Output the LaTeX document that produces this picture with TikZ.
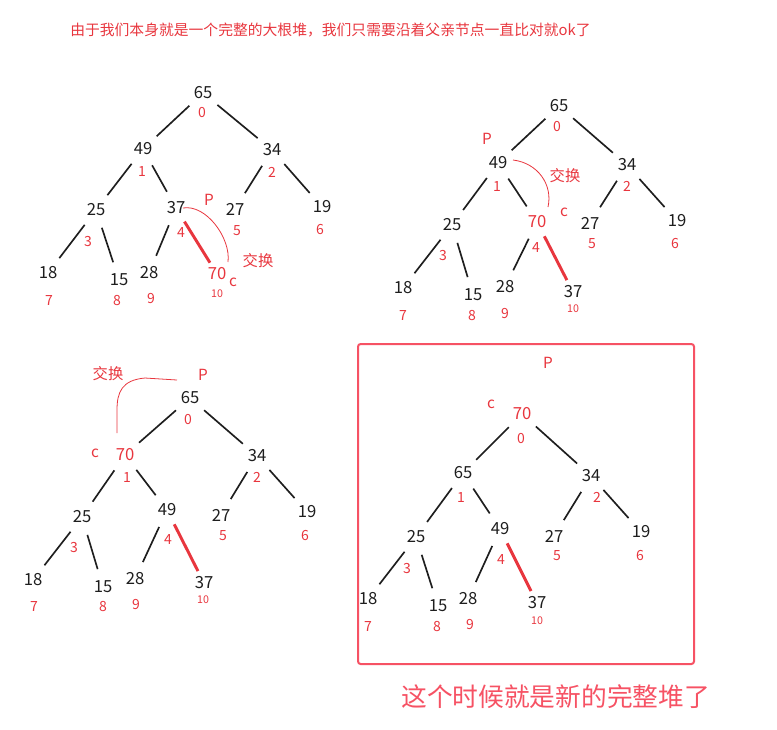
\documentclass[tikz,border=0pt]{standalone}
\usepackage{fontspec}
\setmainfont{Noto Sans CJK SC}
\usepackage{tikz}
\usetikzlibrary{calc}
\definecolor{numgray}{RGB}{30,30,30}
\definecolor{hred}{RGB}{232,54,62}
\definecolor{boxred}{RGB}{246,82,100}
\tikzset{
  val/.style={inner sep=1pt,text=numgray,font=\fontsize{12.5}{13}\selectfont},
  hot/.style={val,text=hred},
  idx/.style={inner sep=1pt,text=hred,font=\fontsize{10.5}{11}\selectfont},
  idxs/.style={idx,font=\fontsize{8}{8}\selectfont},
  note/.style={inner sep=1pt,text=hred,font=\fontsize{11.5}{12}\selectfont},
  edge/.style={numgray,line width=1.25pt,shorten <=14pt,shorten >=14pt},
  hotedge/.style={hred,line width=2.2pt,shorten <=12pt,shorten >=10pt},
  swap/.style={hred,line width=0.6pt}
}
\begin{document}
\begin{tikzpicture}[x=0.75pt,y=-0.75pt]
  \useasboundingbox (0,0) rectangle (777,729);
  % heading
  \node[inner sep=0pt,anchor=west,text=hred,font=\fontsize{11.1}{12}\selectfont] (head) at (70,30)
    {由于我们本身就是一个完整的大根堆，我们只需要沿着父亲节点一直比对就ok了};
  % tree a : 70 inserted at index 10
  \node[val] (a0) at (203,93) {65};   \node[idx] (ai0) at (202,113) {0};
  \node[val] (a1) at (143,149) {49};  \node[idx] (ai1) at (142,172) {1};
  \node[val] (a2) at (272,150) {34};  \node[idx] (ai2) at (272,172) {2};
  \node[val] (a3) at (96,210) {25};   \node[idx] (ai3) at (88,242) {3};
  \node[val] (a4) at (176,208) {37};  \node[idx] (ai4) at (181,233) {4};
  \node[val] (a5) at (235,209) {27};  \node[idx] (ai5) at (237,231) {5};
  \node[val] (a6) at (322,207) {19};  \node[idx] (ai6) at (320,230) {6};
  \node[val] (a7) at (48,273) {18};   \node[idx] (ai7) at (49,300) {7};
  \node[val] (a8) at (119,280) {15};  \node[idx] (ai8) at (117,300) {8};
  \node[val] (a9) at (149,273) {28};  \node[idx] (ai9) at (151,298) {9};
  \node[hot] (a10) at (217,274) {70}; \node[idxs] (ai10) at (217,294) {10};
  \node[note] (ap) at (209,200) {P};
  \node[note] (ac) at (233,282) {c};
  \node[note] (ax) at (258,261) {交换};
  \coordinate (as) at (183,208); \coordinate (ae) at (228,262);
  \draw[swap] (as) .. controls (206,204) and (231,238) .. (ae);
  % tree b : 70 moved to index 4
  \node[val] (b0) at (559,106) {65};  \node[idx] (bi0) at (557,127) {0};
  \node[val] (b1) at (498,163) {49};  \node[idx] (bi1) at (497,187) {1};
  \node[val] (b2) at (627,165) {34};  \node[idx] (bi2) at (627,186) {2};
  \node[val] (b3) at (452,225) {25};  \node[idx] (bi3) at (443,256) {3};
  \node[hot] (b4) at (537,222) {70};  \node[idx] (bi4) at (536,247) {4};
  \node[val] (b5) at (590,223) {27};  \node[idx] (bi5) at (592,244) {5};
  \node[val] (b6) at (677,221) {19};  \node[idx] (bi6) at (675,244) {6};
  \node[val] (b7) at (403,288) {18};  \node[idx] (bi7) at (403,315) {7};
  \node[val] (b8) at (473,295) {15};  \node[idx] (bi8) at (472,315) {8};
  \node[val] (b9) at (505,287) {28};  \node[idx] (bi9) at (505,313) {9};
  \node[val] (b10) at (573,292) {37}; \node[idxs] (bi10) at (573,309) {10};
  \node[note] (bp) at (487,139) {P};
  \node[note] (bx) at (565,176) {交换};
  \node[note] (bc) at (564,212) {c};
  \coordinate (bs) at (513,160); \coordinate (be) at (548,207);
  \draw[swap] (bs) .. controls (538,163) and (553,185) .. (be);
  % tree c : 70 moved to index 1
  \node[val] (c0) at (190,398) {65};  \node[idx] (ci0) at (188,419) {0};
  \node[hot] (c1) at (125,455) {70};  \node[idx] (ci1) at (127,477) {1};
  \node[val] (c2) at (257,456) {34};  \node[idx] (ci2) at (257,477) {2};
  \node[val] (c3) at (82,517) {25};   \node[idx] (ci3) at (74,547) {3};
  \node[val] (c4) at (167,510) {49};  \node[idx] (ci4) at (168,539) {4};
  \node[val] (c5) at (221,515) {27};  \node[idx] (ci5) at (223,536) {5};
  \node[val] (c6) at (307,512) {19};  \node[idx] (ci6) at (305,535) {6};
  \node[val] (c7) at (33,580) {18};   \node[idx] (ci7) at (34,606) {7};
  \node[val] (c8) at (103,587) {15};  \node[idx] (ci8) at (103,606) {8};
  \node[val] (c9) at (135,579) {28};  \node[idx] (ci9) at (136,604) {9};
  \node[val] (c10) at (204,583) {37}; \node[idxs] (ci10) at (203,600) {10};
  \node[note] (cx) at (108,374) {交换};
  \node[note] (cp) at (203,375) {P};
  \node[note] (cc) at (95,453) {c};
  \coordinate (cs) at (177,380); \coordinate (ce) at (117,433);
  \draw[swap] (cs) -- (145,378) .. controls (122,380) and (117,392) .. (117,410) -- (ce);
  % tree d : new complete heap
  \node[hot] (d0) at (522,414) {70};  \node[idx] (di0) at (521,438) {0};
  \node[val] (d1) at (463,473) {65};  \node[idx] (di1) at (461,497) {1};
  \node[val] (d2) at (591,476) {34};  \node[idx] (di2) at (597,497) {2};
  \node[val] (d3) at (416,537) {25};  \node[idx] (di3) at (407,568) {3};
  \node[val] (d4) at (500,529) {49};  \node[idx] (di4) at (501,559) {4};
  \node[val] (d5) at (554,536) {27};  \node[idx] (di5) at (557,556) {5};
  \node[val] (d6) at (641,532) {19};  \node[idx] (di6) at (640,555) {6};
  \node[val] (d7) at (368,599) {18};  \node[idx] (di7) at (368,626) {7};
  \node[val] (d8) at (438,606) {15};  \node[idx] (di8) at (437,626) {8};
  \node[val] (d9) at (468,599) {28};  \node[idx] (di9) at (470,624) {9};
  \node[val] (d10) at (537,603) {37}; \node[idxs] (di10) at (537,621) {10};
  \node[note] (dp) at (548,363) {P};
  \node[note] (dc) at (491,404) {c};
  \draw[boxred,line width=1.5pt,rounded corners=2pt] (358,344) rectangle (694,664);
  \node[inner sep=0pt,anchor=west,text=boxred,font=\fontsize{19.3}{20}\selectfont] (foot) at (401,697)
    {这个时候就是新的完整堆了};
  % edges of all four trees
  \foreach \t in {a,b,c,d} {
    \foreach \p/\c in {0/1,0/2,1/3,1/4,2/5,2/6,3/7,3/8,4/9}
      \draw[edge] (\t\p.center) -- (\t\c.center);
    \draw[hotedge] (\t4.center) -- (\t10.center);
  }
\end{tikzpicture}
\end{document}
